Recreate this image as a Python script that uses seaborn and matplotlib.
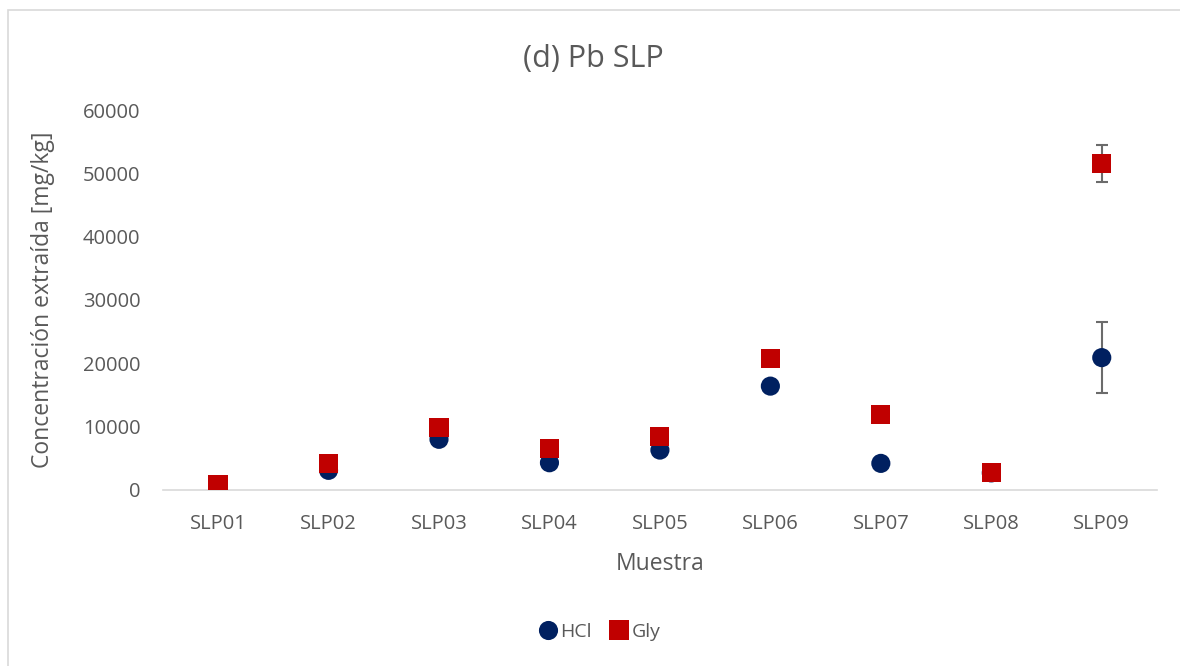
import matplotlib
matplotlib.use("Agg")
import matplotlib.pyplot as plt
import seaborn as sns
import pandas as pd
from matplotlib.patches import Rectangle

samples = ["SLP01", "SLP02", "SLP03", "SLP04", "SLP05", "SLP06", "SLP07", "SLP08", "SLP09"]
hcl = [500, 3100, 8000, 4300, 6300, 16400, 4200, 2700, 20900]
gly = [800, 4200, 9800, 6600, 8500, 20700, 11900, 2700, 51600]
hcl_err = [0, 0, 0, 0, 0, 0, 0, 0, 5600]
gly_err = [0, 0, 0, 0, 0, 0, 0, 0, 2950]
series = ["HCl", "Gly"]
yticks = [0, 10000, 20000, 30000, 40000, 50000, 60000]

sns.set_theme(style="white")
plt.rcParams["font.family"] = ["Open Sans", "DejaVu Sans"]

TXT = "#595959"
fig = plt.figure(figsize=(11.8, 6.66), dpi=100)
ax = fig.add_axes([0.138, 0.2643, 0.8425, 0.5705])

df = pd.DataFrame({
    "Muestra": samples * 2,
    "value": hcl + gly,
    "serie": [series[0]] * len(samples) + [series[1]] * len(samples),
})

ax.errorbar(samples, hcl, yerr=hcl_err, fmt="none", ecolor="#6b6b6b", elinewidth=1.5,
            capsize=4.5, capthick=1.5, zorder=1)
ax.errorbar(samples, gly, yerr=gly_err, fmt="none", ecolor="#6b6b6b", elinewidth=1.5,
            capsize=4.5, capthick=1.5, zorder=1)

sns.scatterplot(data=df, x="Muestra", y="value", hue="serie", style="serie",
                palette={"HCl": "#002060", "Gly": "#C00000"},
                markers={"HCl": "o", "Gly": "s"}, s=190, linewidth=0,
                ax=ax, zorder=3, legend=True)

ax.set_xlim(-0.5, len(samples) - 0.5)
ax.set_ylim(0, 60000)
ax.set_yticks(yticks)
ax.set_yticklabels([str(v) for v in yticks])
ax.tick_params(axis="both", colors=TXT, labelsize=14.5, length=0)
ax.tick_params(axis="y", pad=16)
ax.tick_params(axis="x", pad=17)
for s in ["top", "right", "left"]:
    ax.spines[s].set_visible(False)
ax.spines["bottom"].set_color("#D9D9D9")
ax.spines["bottom"].set_linewidth(1.2)

ax.set_xlabel("Muestra", color=TXT, fontsize=16.5, labelpad=13)
ax.set_ylabel("Concentración extraída [mg/kg]", color=TXT, fontsize=16.5, labelpad=20)
fig.text(0.503, 0.912, "(d) Pb SLP", color=TXT, fontsize=22, ha="center", va="center")

leg = ax.legend(loc="center", bbox_to_anchor=(0.439, -0.374), ncol=2, frameon=False,
                handlelength=1.0, handletextpad=0.15, columnspacing=0.9,
                fontsize=14, markerscale=1.0)
for t in leg.get_texts():
    t.set_color(TXT)

fig.patches.append(Rectangle((0.007, -0.01), 1.2, 0.995, transform=fig.transFigure,
                             fill=False, edgecolor="#D9D9D9", linewidth=1.2))

fig.savefig("out.png", dpi=100)
